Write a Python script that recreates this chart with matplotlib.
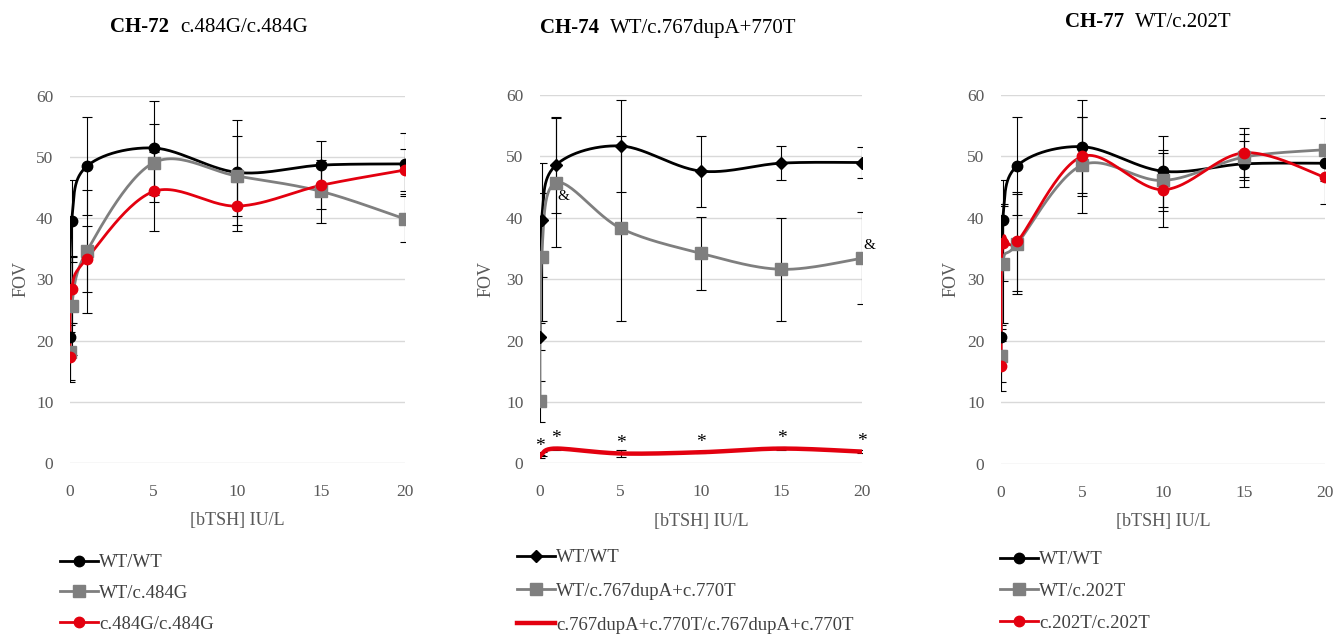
import matplotlib
matplotlib.use("Agg")
import matplotlib.pyplot as plt
from matplotlib.lines import Line2D
import numpy as np

plt.rcParams['font.family'] = ['Liberation Serif', 'DejaVu Serif']

# bTSH concentrations (IU/L)
x = [0, 0.1, 1, 5, 10, 15, 20]

# CH-72
wt72 = [20.6, 39.6, 48.5, 51.5, 47.5, 48.7, 48.9]
wt72_err = [2.0, 6.7, 8.0, 7.7, 8.6, 4.0, 5.0]
het72 = [18.2, 25.6, 34.6, 49.1, 46.9, 44.4, 39.9]
het72_err = [4.7, 8.0, 10.0, 6.4, 6.5, 5.2, 3.7]
hom72 = [17.3, 28.4, 33.4, 44.4, 42.0, 45.4, 47.9]
hom72_err = [4.1, 5.5, 5.4, 6.5, 4.0, 3.8, 3.5]

# CH-74
wt74 = [20.6, 39.7, 48.6, 51.7, 47.6, 48.9, 49.0]
wt74_err = [2.2, 9.3, 7.8, 7.5, 5.8, 2.8, 2.5]
het74 = [10.1, 33.6, 45.7, 38.3, 34.2, 31.6, 33.4]
het74_err = [3.3, 10.4, 10.5, 15.1, 6.0, 8.4, 7.5]
hom74 = [1.1, 1.5, 2.4, 1.6, 1.8, 2.4, 1.9]
hom74_err = [0.3, 0.3, 0.2, 0.6, 0.2, 0.2, 0.2]
star_idx = [0, 2, 3, 4, 5, 6]
amp_idx = [2, 6]

# CH-77
wt77 = [20.6, 39.7, 48.5, 51.6, 47.6, 48.8, 48.9]
wt77_err = [2.0, 6.5, 8.0, 7.6, 5.8, 3.8, 2.5]
het77 = [17.6, 32.5, 35.8, 48.6, 46.1, 49.9, 51.1]
het77_err = [4.3, 9.5, 8.1, 7.8, 5.0, 3.7, 5.1]
hom77 = [15.9, 36.0, 36.2, 50.0, 44.6, 50.6, 46.6]
hom77_err = [4.1, 6.3, 8.0, 6.5, 6.0, 4.0, 4.3]

BLACK = '#000000'
GRAY = '#7f7f7f'
RED = '#e3000f'
TICK = '#595959'

fig = plt.figure(figsize=(13.36, 6.35), dpi=100)


def smooth(xs, ys, sx, sy, n=30):
    # Excel-style smoothed line (Bezier through the points, in screen space)
    p = np.column_stack([np.asarray(xs) * sx, np.asarray(ys) * sy])
    out = []
    for i in range(len(p) - 1):
        p0 = p[max(i - 1, 0)]
        p1, p2 = p[i], p[i + 1]
        p3 = p[min(i + 2, len(p) - 1)]
        c1 = p1 + (p2 - p0) / 6
        c2 = p2 - (p3 - p1) / 6
        t = np.linspace(0, 1, n)[:, None]
        seg = (1 - t) ** 3 * p1 + 3 * (1 - t) ** 2 * t * c1 + 3 * (1 - t) * t ** 2 * c2 + t ** 3 * p2
        out.append(seg)
    out = np.vstack(out)
    return out[:, 0] / sx, out[:, 1] / sy


def panel(rect, series, ylab_x):
    ax = fig.add_axes(rect)
    ax.set_xlim(0, 20)
    ax.set_ylim(0, 60)
    ax.set_xticks([0, 5, 10, 15, 20])
    ax.set_yticks(range(0, 61, 10))
    for s in ax.spines.values():
        s.set_visible(False)
    ax.tick_params(length=0, colors=TICK, labelsize=12.5)
    ax.tick_params(axis='x', pad=15)
    ax.tick_params(axis='y', pad=12)
    ax.grid(axis='y', color='#d9d9d9', lw=1)
    ax.set_axisbelow(True)
    ax.set_xlabel('[bTSH] IU/L', fontsize=13, color=TICK, labelpad=9)
    ax.set_ylabel('FOV', fontsize=13, color=TICK)
    ax.yaxis.set_label_coords(ylab_x, 0.5)
    wpx = rect[2] * 1336
    hpx = rect[3] * 635
    sx, sy = wpx / 20, hpx / 60
    for ys, err, color, marker, ms, lw in series:
        ax.errorbar(x, ys, yerr=err, fmt='none', ecolor='black', elinewidth=0.8,
                    capsize=3.5, capthick=0.8, zorder=2)
        cx, cy = smooth(x, ys, sx, sy)
        ax.plot(cx, cy, color=color, lw=lw, zorder=3, solid_capstyle='round')
        if marker:
            ax.plot(x, ys, ls='none', marker=marker, ms=ms, color=color, zorder=4)
    return ax


def title(xf, yf, bold, rest):
    t = fig.text(xf, yf, bold, fontsize=15, fontweight='bold', ha='left', va='baseline')
    fig.canvas.draw()
    bb = t.get_window_extent()
    fig.text((bb.x1 + 11) / 1336, yf, rest, fontsize=15, ha='left', va='baseline')


def legend(xf, yf, handles, labels, spacing):
    fig.legend(handles, labels, loc='upper left', bbox_to_anchor=(xf, yf),
               frameon=False, fontsize=13.5, handlelength=2.0, handletextpad=0.1,
               labelspacing=spacing, borderpad=0, borderaxespad=0, labelcolor='#404040')


ax1 = panel([0.0524, 0.2709, 0.2507, 0.5779],
            [(wt72, wt72_err, BLACK, 'o', 7.5, 2.0),
             (het72, het72_err, GRAY, 's', 8, 2.0),
             (hom72, hom72_err, RED, 'o', 7.5, 2.0)], -0.12)
ax2 = panel([0.4042, 0.2704, 0.2410, 0.5800],
            [(wt74, wt74_err, BLACK, 'D', 6.5, 2.0),
             (het74, het74_err, GRAY, 's', 8, 2.0),
             (hom74, hom74_err, RED, None, 0, 3.2)], -0.14)
ax3 = panel([0.7493, 0.2693, 0.2425, 0.5811],
            [(wt77, wt77_err, BLACK, 'o', 7.5, 2.0),
             (het77, het77_err, GRAY, 's', 8, 2.0),
             (hom77, hom77_err, RED, 'o', 7.5, 2.0)], -0.127)

# significance marks in CH-74
for i in star_idx:
    ax2.annotate('*', (x[i], hom74[i]), xytext=(0, 7), textcoords='offset points',
                 ha='center', va='center', fontsize=14)
for i, off in zip(amp_idx, [(5, -10), (5, 9)]):
    ax2.annotate('&', (x[i], het74[i]), xytext=off, textcoords='offset points',
                 ha='center', va='center', fontsize=11)

title(110 / 1336, 1 - 32 / 635, 'CH-72', 'c.484G/c.484G')
title(540 / 1336, 1 - 33 / 635, 'CH-74', 'WT/c.767dupA+770T')
title(1065 / 1336, 1 - 27 / 635, 'CH-77', 'WT/c.202T')


def h(color, marker, ms, lw=2.0):
    return Line2D([], [], color=color, marker=marker, ms=ms, lw=lw)


legend(60 / 1336, 1 - 554 / 635,
       [h(BLACK, 'o', 7.5), h(GRAY, 's', 8), h(RED, 'o', 7.5)],
       ['WT/WT', 'WT/c.484G', 'c.484G/c.484G'], 0.73)
legend(517 / 1336, 1 - 549 / 635,
       [h(BLACK, 'D', 6.5), h(GRAY, 's', 8), h(RED, None, 0, 3.2)],
       ['WT/WT', 'WT/c.767dupA+c.770T', 'c.767dupA+c.770T/c.767dupA+c.770T'], 0.89)
legend(1000 / 1336, 1 - 551 / 635,
       [h(BLACK, 'o', 7.5), h(GRAY, 's', 8), h(RED, 'o', 7.5)],
       ['WT/WT', 'WT/c.202T', 'c.202T/c.202T'], 0.78)

fig.savefig('out.png', dpi=100)
